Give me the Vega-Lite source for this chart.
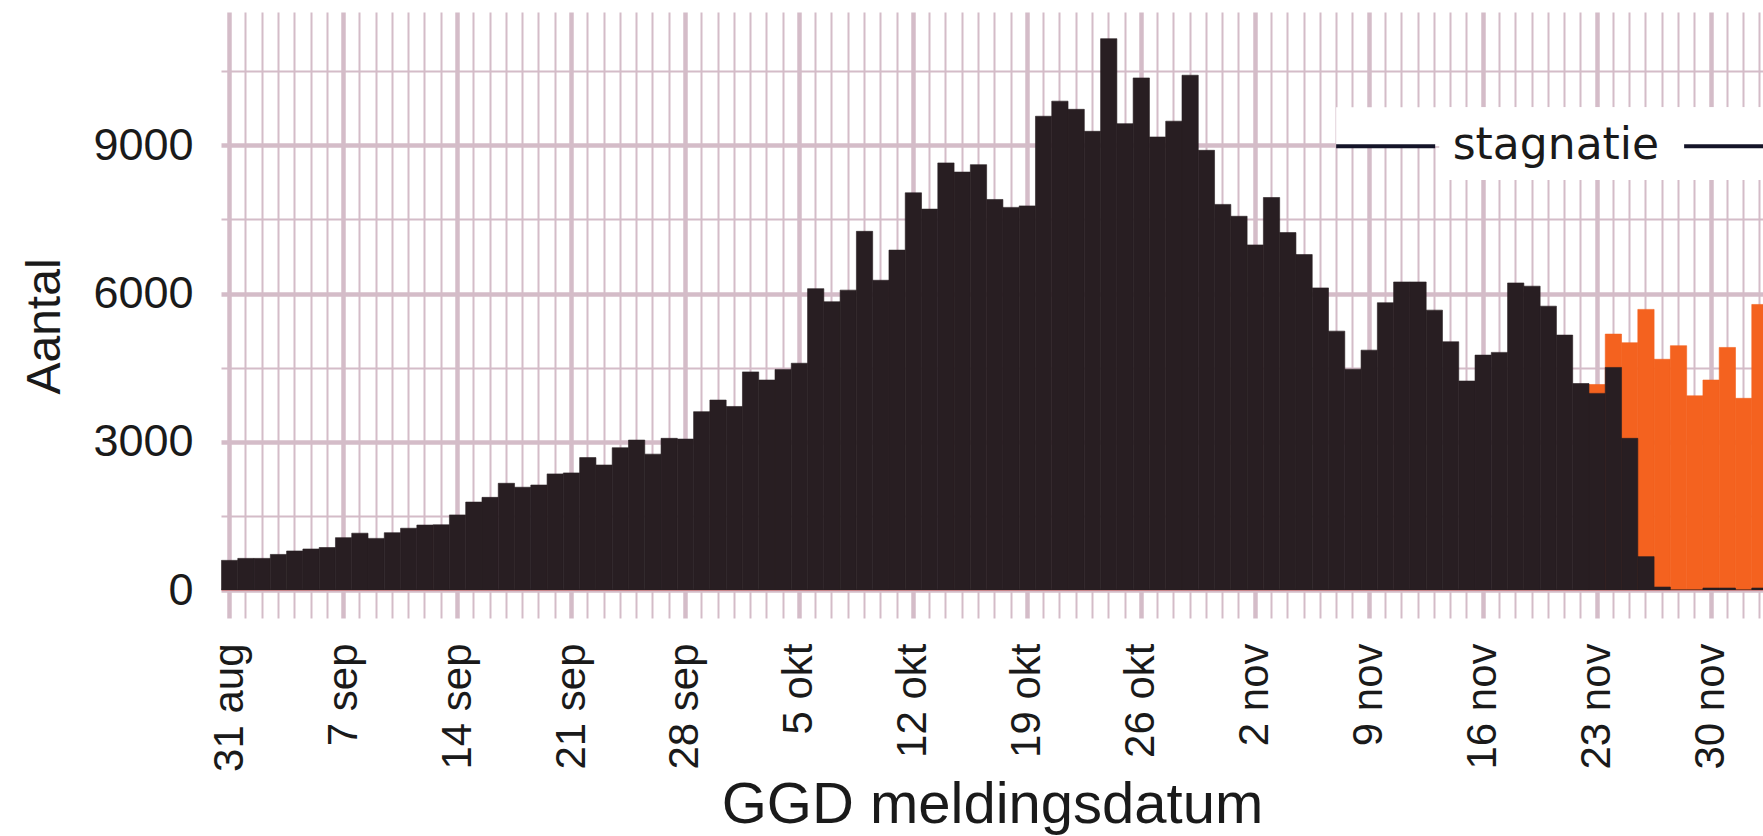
{
  "$schema": "https://vega.github.io/schema/vega-lite/v6.json",
  "width": 1542,
  "height": 578,
  "autosize": "none",
  "padding": {"left": 221, "top": 12, "right": 0, "bottom": 246},
  "background": "#ffffff",
  "config": {"view": {"stroke": null}, "font": "Liberation Sans"},
  "datasets": {
    "meldingen": [
      {"datum": "2020-08-31", "aantal": 600},
      {"datum": "2020-09-01", "aantal": 640},
      {"datum": "2020-09-02", "aantal": 640},
      {"datum": "2020-09-03", "aantal": 720},
      {"datum": "2020-09-04", "aantal": 790},
      {"datum": "2020-09-05", "aantal": 830},
      {"datum": "2020-09-06", "aantal": 860},
      {"datum": "2020-09-07", "aantal": 1060},
      {"datum": "2020-09-08", "aantal": 1150},
      {"datum": "2020-09-09", "aantal": 1045},
      {"datum": "2020-09-10", "aantal": 1160},
      {"datum": "2020-09-11", "aantal": 1250},
      {"datum": "2020-09-12", "aantal": 1315},
      {"datum": "2020-09-13", "aantal": 1320},
      {"datum": "2020-09-14", "aantal": 1520},
      {"datum": "2020-09-15", "aantal": 1780},
      {"datum": "2020-09-16", "aantal": 1875},
      {"datum": "2020-09-17", "aantal": 2160},
      {"datum": "2020-09-18", "aantal": 2080},
      {"datum": "2020-09-19", "aantal": 2125},
      {"datum": "2020-09-20", "aantal": 2350},
      {"datum": "2020-09-21", "aantal": 2370},
      {"datum": "2020-09-22", "aantal": 2680},
      {"datum": "2020-09-23", "aantal": 2530},
      {"datum": "2020-09-24", "aantal": 2880},
      {"datum": "2020-09-25", "aantal": 3035},
      {"datum": "2020-09-26", "aantal": 2750},
      {"datum": "2020-09-27", "aantal": 3070},
      {"datum": "2020-09-28", "aantal": 3055},
      {"datum": "2020-09-29", "aantal": 3610},
      {"datum": "2020-09-30", "aantal": 3845},
      {"datum": "2020-10-01", "aantal": 3715},
      {"datum": "2020-10-02", "aantal": 4415},
      {"datum": "2020-10-03", "aantal": 4250},
      {"datum": "2020-10-04", "aantal": 4465},
      {"datum": "2020-10-05", "aantal": 4590},
      {"datum": "2020-10-06", "aantal": 6100},
      {"datum": "2020-10-07", "aantal": 5835},
      {"datum": "2020-10-08", "aantal": 6070},
      {"datum": "2020-10-09", "aantal": 7260},
      {"datum": "2020-10-10", "aantal": 6270},
      {"datum": "2020-10-11", "aantal": 6880},
      {"datum": "2020-10-12", "aantal": 8040},
      {"datum": "2020-10-13", "aantal": 7710},
      {"datum": "2020-10-14", "aantal": 8645},
      {"datum": "2020-10-15", "aantal": 8460},
      {"datum": "2020-10-16", "aantal": 8610},
      {"datum": "2020-10-17", "aantal": 7905},
      {"datum": "2020-10-18", "aantal": 7745},
      {"datum": "2020-10-19", "aantal": 7775},
      {"datum": "2020-10-20", "aantal": 9590},
      {"datum": "2020-10-21", "aantal": 9895},
      {"datum": "2020-10-22", "aantal": 9730},
      {"datum": "2020-10-23", "aantal": 9285},
      {"datum": "2020-10-24", "aantal": 11160},
      {"datum": "2020-10-25", "aantal": 9440},
      {"datum": "2020-10-26", "aantal": 10365},
      {"datum": "2020-10-27", "aantal": 9170},
      {"datum": "2020-10-28", "aantal": 9490},
      {"datum": "2020-10-29", "aantal": 10420},
      {"datum": "2020-10-30", "aantal": 8900},
      {"datum": "2020-10-31", "aantal": 7805},
      {"datum": "2020-11-01", "aantal": 7565},
      {"datum": "2020-11-02", "aantal": 6985},
      {"datum": "2020-11-03", "aantal": 7945},
      {"datum": "2020-11-04", "aantal": 7235},
      {"datum": "2020-11-05", "aantal": 6790},
      {"datum": "2020-11-06", "aantal": 6115},
      {"datum": "2020-11-07", "aantal": 5240},
      {"datum": "2020-11-08", "aantal": 4470},
      {"datum": "2020-11-09", "aantal": 4855},
      {"datum": "2020-11-10", "aantal": 5815},
      {"datum": "2020-11-11", "aantal": 6235},
      {"datum": "2020-11-12", "aantal": 6235},
      {"datum": "2020-11-13", "aantal": 5665},
      {"datum": "2020-11-14", "aantal": 5025},
      {"datum": "2020-11-15", "aantal": 4230},
      {"datum": "2020-11-16", "aantal": 4755},
      {"datum": "2020-11-17", "aantal": 4810},
      {"datum": "2020-11-18", "aantal": 6215},
      {"datum": "2020-11-19", "aantal": 6150},
      {"datum": "2020-11-20", "aantal": 5745},
      {"datum": "2020-11-21", "aantal": 5160},
      {"datum": "2020-11-22", "aantal": 4180},
      {"datum": "2020-11-23", "aantal": 3980, "totaal": 4160},
      {"datum": "2020-11-24", "aantal": 4505, "totaal": 5180},
      {"datum": "2020-11-25", "aantal": 3070, "totaal": 5005},
      {"datum": "2020-11-26", "aantal": 675, "totaal": 5680},
      {"datum": "2020-11-27", "aantal": 60, "totaal": 4670},
      {"datum": "2020-11-28", "aantal": 0, "totaal": 4945},
      {"datum": "2020-11-29", "aantal": 0, "totaal": 3930},
      {"datum": "2020-11-30", "aantal": 40, "totaal": 4250},
      {"datum": "2020-12-01", "aantal": 40, "totaal": 4910},
      {"datum": "2020-12-02", "aantal": 0, "totaal": 3880},
      {"datum": "2020-12-03", "aantal": 40, "totaal": 5780}
    ],
    "vlakken": [
      {"van": "2020-11-07T12:00:00Z", "tot": "2020-12-06T00:00:00Z", "onder": 8980, "boven": 9770},
      {"van": "2020-11-13T20:00:00Z", "tot": "2020-12-06T00:00:00Z", "onder": 8300, "boven": 9770}
    ],
    "lijnen": [
      {"van": "2020-11-07T12:00:00Z", "tot": "2020-11-13T14:00:00Z", "niveau": 8980},
      {"van": "2020-11-28T21:00:00Z", "tot": "2020-12-06T00:00:00Z", "niveau": 8980}
    ],
    "labels": [
      {"midden": "2020-11-21T00:00:00Z", "niveau": 8980, "tekst": "stagnatie"}
    ]
  },
  "resolve": {"axis": {"x": "independent", "y": "independent"}},
  "layer": [
    {
      "data": {"name": "meldingen"},
      "mark": {"type": "bar", "color": "#f4621f", "stroke": "#f4621f", "strokeWidth": 0.6, "binSpacing": 0, "clip": true},
      "encoding": {
        "x": {
          "field": "datum", "type": "temporal", "timeUnit": "utcyearmonthdate",
          "scale": {
            "type": "utc", "nice": false,
            "domain": [
              {"year": 2020, "month": 8, "date": 31, "utc": true},
              {"year": 2020, "month": 12, "date": 3, "hours": 17, "minutes": 17, "utc": true}
            ]
          },
          "axis": {
            "title": "GGD meldingsdatum",
            "titleFont": "Liberation Sans", "titleFontSize": 58, "titleFontWeight": "normal", "titleColor": "#1a1a1a",
            "titleX": 771, "titleY": 232, "titleAlign": "center", "titleBaseline": "alphabetic",
            "tickCount": {"interval": "day", "step": 1},
            "tickOffset": 8.14,
            "grid": true, "gridColor": "#d4bcc8",
            "gridWidth": {"condition": {"test": "utcday(datum.value) === 1", "value": 4.5}, "value": 2},
            "ticks": true, "tickSize": 28, "tickColor": "#d4bcc8",
            "tickWidth": {"condition": {"test": "utcday(datum.value) === 1", "value": 4.5}, "value": 2},
            "labelExpr": "utcday(datum.value) === 1 ? utcdate(datum.value) + ' ' + ['jan','feb','mrt','apr','mei','jun','jul','aug','sep','okt','nov','dec'][utcmonth(datum.value)] : ''",
            "labelAngle": 270, "labelAlign": "right", "labelBaseline": "middle", "labelPadding": 25,
            "labelFont": "Liberation Sans", "labelFontSize": 42, "labelColor": "#1a1a1a",
            "labelOverlap": false, "labelBound": false, "labelFlush": false,
            "domain": true, "domainColor": "#c9858a", "domainWidth": 1
          }
        },
        "y": {
          "field": "totaal", "type": "quantitative",
          "scale": {"domain": [0, 11700], "nice": false, "zero": true},
          "axis": {
            "title": "Aantal",
            "titleFont": "Liberation Sans", "titleFontSize": 48, "titleFontWeight": "normal", "titleColor": "#1a1a1a",
            "titleAngle": 270, "titleX": -176, "titleY": 314, "titleAlign": "center", "titleBaseline": "middle",
            "values": [0, 1500, 3000, 4500, 6000, 7500, 9000, 10500],
            "format": "d",
            "labelExpr": "datum.value % 3000 === 0 ? datum.label : ''",
            "grid": true, "gridColor": "#d4bcc8",
            "gridWidth": {"condition": {"test": "datum.value % 3000 === 0", "value": 4.5}, "value": 2},
            "ticks": false, "tickSize": 0, "domain": false,
            "labelPadding": 28, "labelFont": "Liberation Sans", "labelFontSize": 45, "labelColor": "#1a1a1a",
            "labelBaseline": "middle"
          }
        }
      }
    },
    {
      "data": {"name": "meldingen"},
      "mark": {"type": "bar", "color": "#281e22", "stroke": "#281e22", "strokeWidth": 0.6, "binSpacing": 0, "clip": true},
      "encoding": {
        "x": {"field": "datum", "type": "temporal", "timeUnit": "utcyearmonthdate", "axis": null},
        "y": {"field": "aantal", "type": "quantitative", "axis": null}
      }
    },
    {
      "data": {"name": "vlakken"},
      "mark": {"type": "rect", "color": "#ffffff", "clip": true},
      "encoding": {
        "x": {"field": "van", "type": "temporal", "axis": null},
        "x2": {"field": "tot"},
        "y": {"field": "onder", "type": "quantitative", "axis": null},
        "y2": {"field": "boven"}
      }
    },
    {
      "data": {"name": "lijnen"},
      "mark": {"type": "rule", "color": "#141428", "strokeWidth": 4, "clip": true},
      "encoding": {
        "x": {"field": "van", "type": "temporal", "axis": null},
        "x2": {"field": "tot"},
        "y": {"field": "niveau", "type": "quantitative", "axis": null}
      }
    },
    {
      "data": {"name": "labels"},
      "mark": {"type": "text", "font": "DejaVu Sans", "fontSize": 44, "color": "#1a1a1a", "align": "center", "baseline": "middle"},
      "encoding": {
        "x": {"field": "midden", "type": "temporal", "axis": null},
        "y": {"field": "niveau", "type": "quantitative", "axis": null},
        "text": {"field": "tekst"}
      }
    }
  ]
}
